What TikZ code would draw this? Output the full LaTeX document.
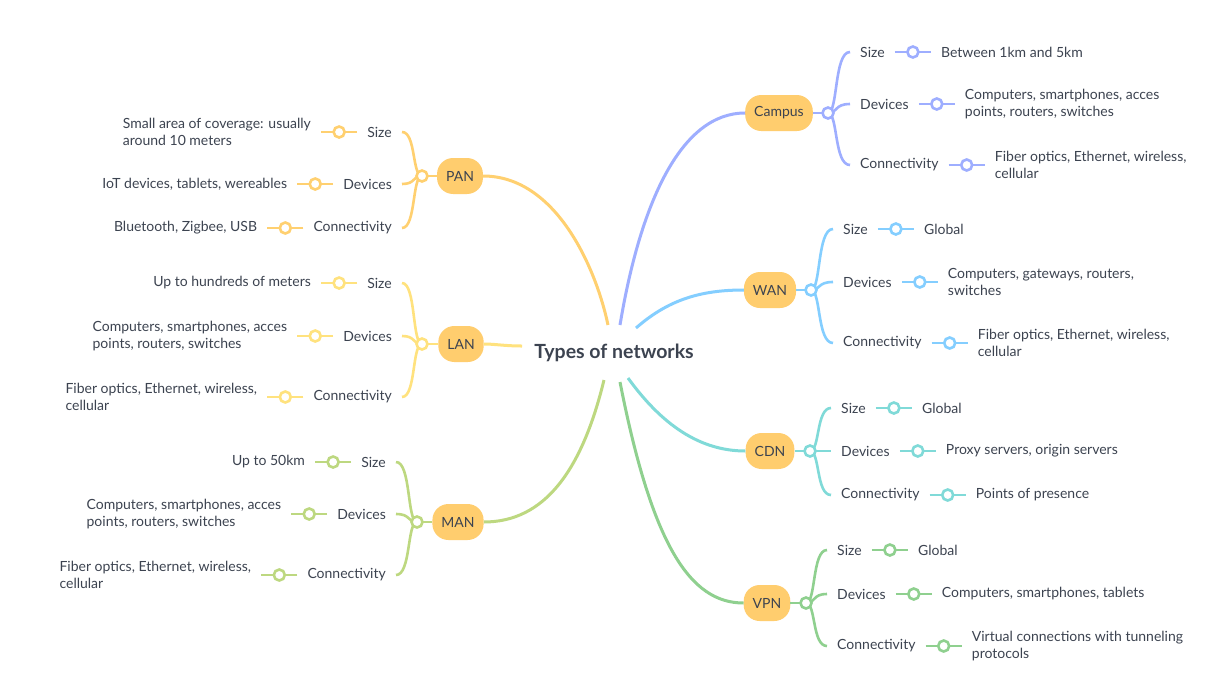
\documentclass[tikz,border=0pt]{standalone}
\usepackage{fontspec}
\setmainfont{Lato}
\usetikzlibrary{calc}
\definecolor{pancol}{HTML}{FFD070}
\definecolor{lancol}{HTML}{FFE27E}
\definecolor{mancol}{HTML}{BDD880}
\definecolor{campuscol}{HTML}{9EAEFF}
\definecolor{wancol}{HTML}{84CEFF}
\definecolor{cdncol}{HTML}{80DAD8}
\definecolor{vpncol}{HTML}{8FD08F}
\definecolor{pillfill}{HTML}{FFCD6E}
\definecolor{txt}{HTML}{3C4350}
\tikzset{
  txtnode/.style={inner sep=0pt, text=txt, font=\fontsize{14}{17}\selectfont, align=left},
  pill/.style={fill=pillfill, rounded corners=16pt, minimum height=36pt, inner xsep=9pt, inner ysep=0pt, text=txt, font=\fontsize{14}{17}\selectfont},
  mainline/.style={draw=#1, line width=3pt},
  leafline/.style={draw=#1, line width=2.6pt},
  dot/.style={circle, draw=#1, fill=white, line width=2.6pt, inner sep=0pt, minimum size=11pt},
}
\newcommand{\RLeaf}[7]{%
  \node[txtnode, anchor=west] (#1l) at (#4,#5) {#6};
  \node[txtnode, anchor=west] (#1v) at ([xshift=56pt]#1l.east) {#7};
  \coordinate (#1c) at ([xshift=-10pt]#1l.west);
  \draw[leafline=#2] (#3) .. controls ($(#3)+(10,0)$) and ($(#3 |- #1c)+(6,0)$) .. (#1c);
  \draw[leafline=#2] ([xshift=10pt]#1l.east) -- ([xshift=-10pt]#1v.west) node[midway, dot=#2] (#1d) {};
}
\newcommand{\LLeaf}[7]{%
  \node[txtnode, anchor=east] (#1l) at (#4,#5) {#6};
  \node[txtnode, anchor=east] (#1v) at ([xshift=-56pt]#1l.west) {#7};
  \coordinate (#1c) at ([xshift=10pt]#1l.east);
  \draw[leafline=#2] (#3) .. controls ($(#3)+(-10,0)$) and ($(#3 |- #1c)+(-6,0)$) .. (#1c);
  \draw[leafline=#2] ([xshift=-10pt]#1l.west) -- ([xshift=10pt]#1v.east) node[midway, dot=#2] (#1d) {};
}
\begin{document}
\begin{tikzpicture}[x=1pt, y=-1pt]
\path[use as bounding box, fill=white] (0,0) rectangle (1212,697);

% root
\node[inner sep=0pt, text=txt, font=\fontsize{19.5}{22}\selectfont\bfseries] (root) at (614,353) {Types of networks};

% start coordinates
\coordinate (sPAN) at (608,325);
\coordinate (sCampus) at (620,325);
\coordinate (sWAN) at (636,328);
\coordinate (sLAN) at (522,346);
\coordinate (sCDN) at (628,378);
\coordinate (sMAN) at (604,380);
\coordinate (sVPN) at (620,382);

% main nodes
\node[pill] (pan) at (460,176) {PAN};
\node[pill] (lan) at (461,344) {LAN};
\node[pill] (man) at (458,522) {MAN};
\node[pill] (campus) at (779,113) {Campus};
\node[pill] (wan) at (770,290) {WAN};
\node[pill] (cdn) at (770,451) {CDN};
\node[pill] (vpn) at (767,603) {VPN};

% junctions
\coordinate (jPAN) at (422,176);
\coordinate (jLAN) at (422,344);
\coordinate (jMAN) at (417,522);
\coordinate (jCampus) at (828,113);
\coordinate (jWAN) at (811,290);
\coordinate (jCDN) at (810,451);
\coordinate (jVPN) at (806,603);

% main connectors
\draw[mainline=pancol] (sPAN) .. controls (596,268) and (556,176) .. (pan.east);
\draw[mainline=campuscol] (sCampus) .. controls (640,205) and (680,113) .. (campus.west);
\draw[mainline=wancol] (sWAN) .. controls (668,300) and (700,290) .. (wan.west);
\draw[mainline=lancol] (sLAN) .. controls (505,346) and (495,344) .. (lan.east);
\draw[mainline=cdncol] (sCDN) .. controls (662,425) and (700,451) .. (cdn.west);
\draw[mainline=mancol] (sMAN) .. controls (582,470) and (545,522) .. (man.east);
\draw[mainline=vpncol] (sVPN) .. controls (652,545) and (690,603) .. (vpn.west);

% node-to-junction stubs
\draw[leafline=pancol] (pan.west) -- (jPAN);
\draw[leafline=lancol] (lan.west) -- (jLAN);
\draw[leafline=mancol] (man.west) -- (jMAN);
\draw[leafline=campuscol] (campus.east) -- (jCampus);
\draw[leafline=wancol] (wan.east) -- (jWAN);
\draw[leafline=cdncol] (cdn.east) -- (jCDN);
\draw[leafline=vpncol] (vpn.east) -- (jVPN);

% Campus
\RLeaf{ca1}{campuscol}{jCampus}{860}{52}{Size}{Between 1km and 5km}
\RLeaf{ca2}{campuscol}{jCampus}{860}{104}{Devices}{Computers, smartphones, acces\\points, routers, switches}
\RLeaf{ca3}{campuscol}{jCampus}{860}{165}{Connectivity}{Fiber optics, Ethernet, wireless,\\cellular}
% WAN
\RLeaf{wa1}{wancol}{jWAN}{843}{229}{Size}{Global}
\RLeaf{wa2}{wancol}{jWAN}{843}{282}{Devices}{Computers, gateways, routers,\\switches}
\RLeaf{wa3}{wancol}{jWAN}{843}{343}{Connectivity}{Fiber optics, Ethernet, wireless,\\cellular}
% CDN
\RLeaf{cd1}{cdncol}{jCDN}{841}{408}{Size}{Global}
\RLeaf{cd2}{cdncol}{jCDN}{841}{451}{Devices}{Proxy servers, origin servers}
\RLeaf{cd3}{cdncol}{jCDN}{841}{495}{Connectivity}{Points of presence}
% VPN
\RLeaf{vp1}{vpncol}{jVPN}{837}{550}{Size}{Global}
\RLeaf{vp2}{vpncol}{jVPN}{837}{594}{Devices}{Computers, smartphones, tablets}
\RLeaf{vp3}{vpncol}{jVPN}{837}{646}{Connectivity}{Virtual connections with tunneling\\protocols}
% PAN
\LLeaf{pa1}{pancol}{jPAN}{392}{132}{Size}{Small area of coverage: usually\\around 10 meters}
\LLeaf{pa2}{pancol}{jPAN}{392}{184}{Devices}{IoT devices, tablets, wereables}
\LLeaf{pa3}{pancol}{jPAN}{392}{228}{Connectivity}{Bluetooth, Zigbee, USB}
% LAN
\LLeaf{la1}{lancol}{jLAN}{392}{283}{Size}{Up to hundreds of meters}
\LLeaf{la2}{lancol}{jLAN}{392}{336}{Devices}{Computers, smartphones, acces\\points, routers, switches}
\LLeaf{la3}{lancol}{jLAN}{392}{397}{Connectivity}{Fiber optics, Ethernet, wireless,\\cellular}
% MAN
\LLeaf{ma1}{mancol}{jMAN}{386}{462}{Size}{Up to 50km}
\LLeaf{ma2}{mancol}{jMAN}{386}{514}{Devices}{Computers, smartphones, acces\\points, routers, switches}
\LLeaf{ma3}{mancol}{jMAN}{386}{575}{Connectivity}{Fiber optics, Ethernet, wireless,\\cellular}

% junction circles
\node[dot=pancol] (cPAN) at (jPAN) {};
\node[dot=lancol] (cLAN) at (jLAN) {};
\node[dot=mancol] (cMAN) at (jMAN) {};
\node[dot=campuscol] (cCampus) at (jCampus) {};
\node[dot=wancol] (cWAN) at (jWAN) {};
\node[dot=cdncol] (cCDN) at (jCDN) {};
\node[dot=vpncol] (cVPN) at (jVPN) {};
\end{tikzpicture}
\end{document}
